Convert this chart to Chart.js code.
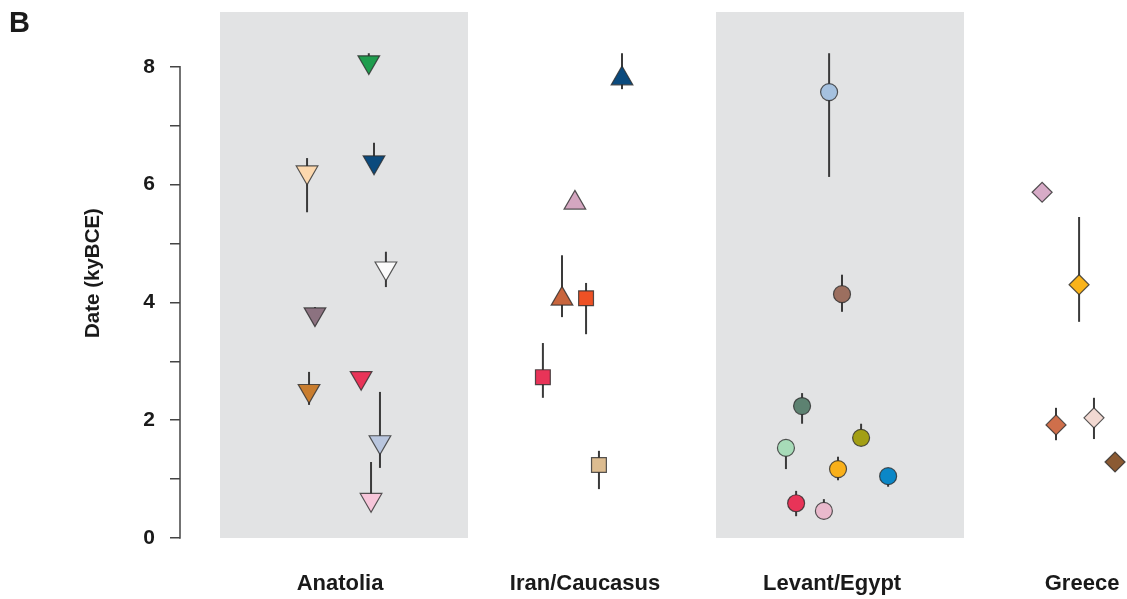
<!DOCTYPE html>
<html>
<head>
<meta charset="utf-8">
<script src="https://cdn.jsdelivr.net/npm/chart.js@4.4.1/dist/chart.umd.min.js"></script>
<style>
  html, body { margin: 0; padding: 0; background: #fff; }
  #wrap { width: 1127px; height: 599px; }
</style>
</head>
<body>
<div id="wrap"><canvas id="chart" width="1127" height="599"></canvas></div>
<script>
// categorias y posiciones de etiquetas (en unidades del eje x)
const categories = ["Anatolia", "Iran/Caucasus", "Levant/Egypt", "Greece"];
const categoryPos = [0.484, 1.472, 2.468, 3.476];
const shadedRegions = [[0, 1], [2, 3]];

const yTicks = [0, 1, 2, 3, 4, 5, 6, 7, 8];
const yTickLabels = ["0", "", "2", "", "4", "", "6", "", "8"];

// Anatolia (triangulos hacia abajo)
const anatoliaX = [0.60, 0.621, 0.351, 0.669, 0.383, 0.359, 0.569, 0.645, 0.609];
const anatoliaY = [8.08, 6.38, 6.21, 4.58, 3.80, 2.50, 2.72, 1.63, 0.65];
const anatoliaLo = [8.0, 6.2, 5.53, 4.26, 3.75, 2.26, null, 1.19, 0.55];
const anatoliaHi = [8.23, 6.71, 6.45, 4.86, 3.92, 2.82, null, 2.48, 1.29];
const anatoliaColors = ["#1f9d4e", "#0b4a7d", "#fcd8ae", "#fbfbfb", "#8c7280",
    "#c97d2e", "#e83458", "#b9c6de", "#f7c6da"];

// Iran/Caucasus (triangulos y cuadrados)
const iranX = [1.621, 1.431, 1.379, 1.476, 1.302, 1.528];
const iranY = [7.80, 5.69, 4.06, 4.07, 2.73, 1.24];
const iranLo = [7.62, null, 3.75, 3.46, 2.38, 0.83];
const iranHi = [8.23, null, 4.80, 4.33, 3.31, 1.48];
const iranColors = ["#0b4a7d", "#d4a6c0", "#c8653d", "#ee5125", "#e83458", "#dcbc90"];
const iranShapes = ["triangle", "triangle", "triangle", "rect", "rect", "rect"];

// Levant/Egypt (circulos)
const levantX = [2.456, 2.508, 2.347, 2.282, 2.585, 2.492, 2.694, 2.323, 2.435];
const levantY = [7.57, 4.14, 2.24, 1.53, 1.70, 1.17, 1.05, 0.59, 0.46];
const levantLo = [6.13, 3.84, 1.94, 1.17, 1.60, 0.98, 0.87, 0.37, 0.35];
const levantHi = [8.23, 4.47, 2.46, 1.60, 1.94, 1.38, 1.10, 0.80, 0.66];
const levantColors = ["#a5c1df", "#9c6f5f", "#5d8271", "#a7dbb8", "#a39f14",
    "#f9b01a", "#0b87c7", "#e83458", "#e9b9cc"];

// Greece (rombos)
const greeceX = [3.315, 3.464, 3.371, 3.524, 3.609];
const greeceY = [5.87, 4.30, 1.92, 2.04, 1.29];
const greeceLo = [null, 3.67, 1.66, 1.68, null];
const greeceHi = [null, 5.45, 2.21, 2.38, null];
const greeceColors = ["#d7abc7", "#f9b31a", "#cf6f4b", "#f2d9d2", "#8b5a33"];

const FONT = "'Liberation Sans', Arial, Helvetica, sans-serif";
const INK = "#1a1a1a";

const toPoints = (xs, ys, los, his) =>
    xs.map((x, i) => ({ x, y: ys[i], lo: los[i], hi: his[i] }));

// sin relleno automatico por etiquetas que sobresalen
const noPadding = scale => {
    scale.paddingLeft = 0;
    scale.paddingRight = 0;
    scale.paddingTop = 0;
    scale.paddingBottom = 0;
};

// fondo gris de las regiones alternas
const shadingPlugin = {
    id: "shading",
    beforeDraw(chart) {
        const { ctx, chartArea, scales: { x, y } } = chart;
        ctx.save();
        ctx.fillStyle = "#e2e3e4";
        shadedRegions.forEach(([a, b]) => {
            const x0 = x.getPixelForValue(a);
            const x1 = Math.min(x.getPixelForValue(b), chartArea.right);
            ctx.fillRect(x0, chartArea.top, x1 - x0, y.getPixelForValue(0) - chartArea.top);
        });
        ctx.restore();
    }
};

// barras de error verticales, por debajo de los marcadores
const errorBarPlugin = {
    id: "errorBars",
    beforeDatasetsDraw(chart) {
        const { ctx, scales: { x, y } } = chart;
        ctx.save();
        ctx.strokeStyle = "#3a3a3a";
        ctx.lineWidth = 2;
        chart.data.datasets.forEach(ds => {
            ds.data.forEach(p => {
                if (p.lo == null || p.hi == null) return;
                const px = x.getPixelForValue(p.x);
                ctx.beginPath();
                ctx.moveTo(px, y.getPixelForValue(p.lo));
                ctx.lineTo(px, y.getPixelForValue(p.hi));
                ctx.stroke();
            });
        });
        ctx.restore();
    }
};

// linea del eje y, titulo y letra del panel
const axisPlugin = {
    id: "axisExtras",
    afterDraw(chart) {
        const { ctx, chartArea, scales: { y } } = chart;
        ctx.save();
        ctx.strokeStyle = "#444";
        ctx.lineWidth = 1.5;
        ctx.beginPath();
        ctx.moveTo(chartArea.left, y.getPixelForValue(yTicks[0]) + 0.75);
        ctx.lineTo(chartArea.left, y.getPixelForValue(yTicks[yTicks.length - 1]) - 0.75);
        ctx.stroke();

        ctx.fillStyle = INK;
        ctx.font = `bold 20.5px ${FONT}`;
        ctx.textAlign = "center";
        ctx.textBaseline = "middle";
        ctx.translate(93, (chartArea.top + chartArea.bottom) / 2 - 2);
        ctx.rotate(-Math.PI / 2);
        ctx.fillText("Date (kyBCE)", 0, 0);
        ctx.restore();

        ctx.save();
        ctx.fillStyle = INK;
        ctx.font = `bold 29px ${FONT}`;
        ctx.textBaseline = "alphabetic";
        ctx.fillText("B", 9, 32);
        ctx.restore();
    }
};

const commonPoint = {
    borderColor: "rgba(45,45,45,0.8)",
    borderWidth: 1.2,
    pointBorderColor: "rgba(45,45,45,0.8)",
    pointBorderWidth: 1.2,
    pointHoverRadius: 0,
    showLine: false
};

new Chart(document.getElementById("chart"), {
    type: "scatter",
    data: {
        datasets: [
            {
                ...commonPoint,
                label: categories[0],
                data: toPoints(anatoliaX, anatoliaY, anatoliaLo, anatoliaHi),
                pointStyle: "triangle",
                rotation: 180,
                pointRadius: 12.5,
                pointBackgroundColor: anatoliaColors
            },
            {
                ...commonPoint,
                label: categories[1],
                data: toPoints(iranX, iranY, iranLo, iranHi),
                pointStyle: iranShapes,
                pointRadius: iranShapes.map(s => s === "rect" ? 10.5 : 12.5),
                pointBackgroundColor: iranColors
            },
            {
                ...commonPoint,
                label: categories[2],
                data: toPoints(levantX, levantY, levantLo, levantHi),
                pointStyle: "circle",
                pointRadius: 8.5,
                pointBackgroundColor: levantColors
            },
            {
                ...commonPoint,
                label: categories[3],
                data: toPoints(greeceX, greeceY, greeceLo, greeceHi),
                pointStyle: "rectRot",
                pointRadius: 10,
                pointBackgroundColor: greeceColors
            }
        ]
    },
    options: {
        responsive: false,
        animation: false,
        events: [],
        layout: {
            autoPadding: false,
            padding: { top: 12, left: 0, right: 0, bottom: 0 }
        },
        plugins: {
            legend: { display: false },
            tooltip: { enabled: false }
        },
        scales: {
            x: {
                type: "linear",
                min: -0.1613,
                max: 3.6572,
                grid: { display: false },
                border: { display: false },
                afterBuildTicks: scale => {
                    scale.ticks = categoryPos.map(v => ({ value: v }));
                },
                afterFit: scale => {
                    scale.height = 61;
                    noPadding(scale);
                },
                ticks: {
                    padding: 25,
                    maxRotation: 0,
                    autoSkip: false,
                    color: INK,
                    font: { family: FONT, size: 22, weight: "bold" },
                    callback: (value, index) => categories[index]
                }
            },
            y: {
                type: "linear",
                min: 0,
                max: 8.93,
                grid: {
                    display: true,
                    drawOnChartArea: false,
                    drawTicks: true,
                    tickLength: 10,
                    color: "#444",
                    lineWidth: 1.5
                },
                border: { display: false },
                afterBuildTicks: scale => {
                    scale.ticks = yTicks.map(v => ({ value: v }));
                },
                afterFit: scale => {
                    scale.width = 180;
                    noPadding(scale);
                },
                ticks: {
                    padding: 15,
                    autoSkip: false,
                    color: INK,
                    font: { family: FONT, size: 21, weight: "bold" },
                    callback: (value, index) => yTickLabels[index]
                }
            }
        }
    },
    plugins: [shadingPlugin, errorBarPlugin, axisPlugin]
});
</script>
</body>
</html>
